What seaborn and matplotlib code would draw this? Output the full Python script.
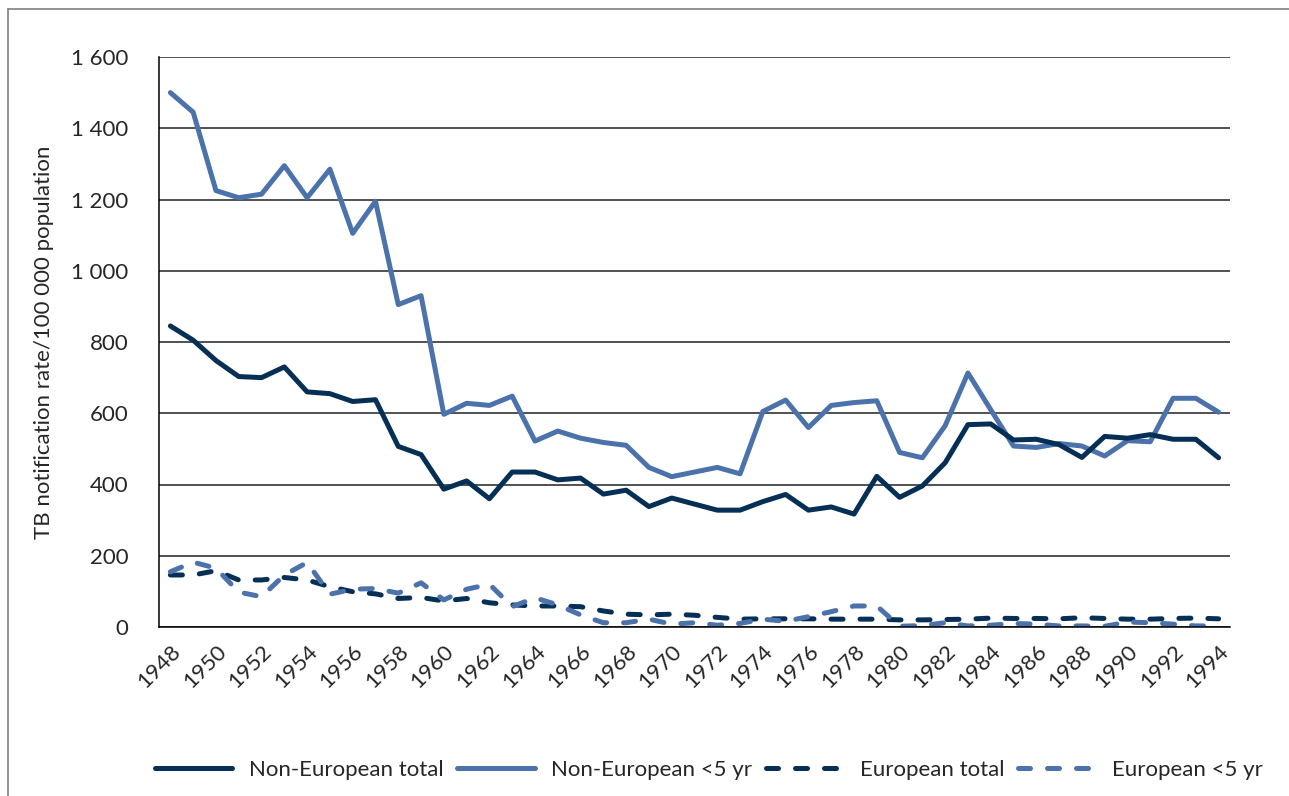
import matplotlib
matplotlib.use("Agg")
import matplotlib.pyplot as plt
from matplotlib.lines import Line2D
from matplotlib.ticker import FuncFormatter
import numpy as np
import pandas as pd
import seaborn as sns

# data
years = list(range(1948, 1995))
non_eur_total = [845, 805, 748, 703, 700, 730, 660, 655, 633, 638,
                 507, 484, 387, 410, 360, 435, 435, 413, 418, 373,
                 384, 338, 362, 345, 328, 328, 352, 372, 328, 337,
                 317, 423, 364, 396, 461, 568, 570, 525, 527, 512,
                 476, 535, 530, 540, 527, 527, 475]
non_eur_u5 = [1500, 1445, 1225, 1205, 1215, 1295, 1205, 1285, 1105, 1195,
              905, 930, 597, 628, 622, 648, 522, 550, 530, 518,
              510, 448, 422, 435, 448, 430, 605, 637, 560, 622,
              630, 635, 490, 475, 565, 713, 610, 508, 504, 515,
              508, 480, 523, 520, 642, 642, 603]
eur_total = [146, 146, 158, 132, 132, 139, 132, 113, 99, 93,
             80, 83, 73, 80, 68, 62, 59, 59, 57, 45,
             36, 34, 36, 33, 27, 22, 23, 23, 23, 22,
             22, 22, 20, 20, 21, 22, 25, 24, 24, 23,
             26, 24, 22, 22, 24, 25, 23]
eur_u5 = [155, 182, 165, 98, 85, 146, 181, 92, 106, 108,
          95, 124, 76, 106, 120, 57, 82, 62, 34, 12,
          12, 22, 8, 12, 5, 10, 22, 16, 29, 43,
          59, 59, 2, 4, 12, 3, 5, 10, 8, 3,
          3, 2, 14, 12, 8, 3, 3]

series_names = ["Non-European total", "Non-European <5 yr", "European total", "European <5 yr"]
series_vals = [non_eur_total, non_eur_u5, eur_total, eur_u5]

navy = "#062f55"
light = "#4c72ab"
colors = {series_names[0]: navy, series_names[1]: light,
          series_names[2]: navy, series_names[3]: light}
dash_pat = (2.4, 3.4)
dashes = {series_names[0]: "", series_names[1]: "",
          series_names[2]: dash_pat, series_names[3]: dash_pat}

rows = []
for name, vals in zip(series_names, series_vals):
    for i, v in enumerate(vals):
        rows.append({"idx": i, "value": v, "series": name})
df = pd.DataFrame(rows)

sns.set_style("white")
plt.rcParams["font.family"] = ["Lato", "DejaVu Sans"]
fs = 16

fig = plt.figure(figsize=(12.89, 7.96), dpi=100)
ax = fig.add_axes([159 / 1289, 1 - 627 / 796, (1230 - 159) / 1289, (627 - 57) / 796])

lw = 3.6
draw_order = [series_names[1], series_names[0], series_names[2], series_names[3]]
sns.lineplot(data=df, x="idx", y="value", hue="series", style="series",
             hue_order=draw_order, style_order=draw_order,
             palette=colors, dashes=dashes, linewidth=lw, legend=False, ax=ax)
for ln in ax.get_lines():
    ln.set_solid_capstyle("round")
    ln.set_dash_capstyle("round")
    ln.set_solid_joinstyle("round")
    ln.set_dash_joinstyle("round")

# axes
ax.set_xlim(-0.5, len(years) - 0.5)
ax.set_ylim(0, 1600)
ax.set_yticks(np.arange(0, 1601, 200))
ax.yaxis.set_major_formatter(FuncFormatter(lambda v, p: f"{int(v):,}".replace(",", " ")))
ax.grid(axis="y", color="#222222", linewidth=1.1)
ax.set_axisbelow(True)

ax.set_xticks(np.arange(0, len(years), 2))
ax.set_xticklabels([str(y) for y in years[::2]], rotation=45, ha="right",
                   rotation_mode="anchor", fontsize=fs)
ax.set_xticks(np.arange(-0.5, len(years)), minor=True)
ax.tick_params(axis="x", which="major", length=0, pad=10)
ax.tick_params(axis="x", which="minor", length=7, width=1.1, color="black", direction="out")
ax.tick_params(axis="y", which="major", length=7, width=1.1, color="black",
               direction="out", labelsize=fs, pad=15)
for s in ["top", "right"]:
    ax.spines[s].set_visible(False)
for s in ["left", "bottom"]:
    ax.spines[s].set_color("black")
    ax.spines[s].set_linewidth(1.1)

ax.set_xlabel("")
ax.set_ylabel("TB notification rate/100 000 population", fontsize=fs, labelpad=12)

# legend
handles = []
for n in series_names:
    h = Line2D([0], [0], color=colors[n], linewidth=lw,
               solid_capstyle="round", dash_capstyle="round")
    if dashes[n] != "":
        h.set_dashes(dash_pat)
    handles.append(h)
fig.legend(handles, series_names, loc="center", bbox_to_anchor=(0.55, 1 - 770 / 796),
           ncol=4, frameon=False, fontsize=fs, handlelength=3.5,
           handletextpad=0.75, columnspacing=0.6)

# outer frame of the figure
fig.add_artist(Line2D([8 / 1289, 8 / 1289], [0, 1 - 9 / 796], transform=fig.transFigure,
                      color="#808080", linewidth=1.2))
fig.add_artist(Line2D([8 / 1289, 1], [1 - 9 / 796, 1 - 9 / 796], transform=fig.transFigure,
                      color="#808080", linewidth=1.2))

fig.savefig("out.png", dpi=100)
